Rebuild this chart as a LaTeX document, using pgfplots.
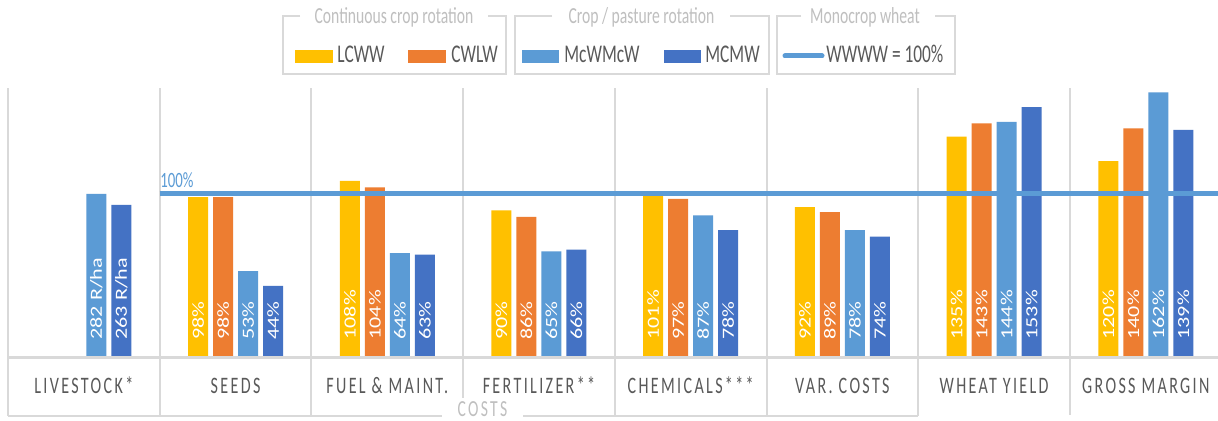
\documentclass[border=0pt]{standalone}
\usepackage{fontspec}
\setmainfont{Carlito}
\newfontfamily\cond[FakeStretch=0.68]{Carlito}
\newfontfamily\condsp[FakeStretch=0.68,LetterSpace=10]{Carlito}
\newfontfamily\labfont[FakeStretch=1.3]{Carlito}
\usepackage{pgfplots}
\pgfplotsset{compat=1.18}
\definecolor{cY}{HTML}{FFC000}
\definecolor{cO}{HTML}{ED7D31}
\definecolor{cL}{HTML}{5B9BD5}
\definecolor{cD}{HTML}{4472C4}
\definecolor{gridg}{HTML}{D9D9D9}
\definecolor{txtg}{HTML}{595959}
\definecolor{ttlg}{HTML}{BFBFBF}
\pgfplotsset{
  barlab/.style={draw=none, mark=none,
    point meta=explicit symbolic, nodes near coords=\pgfplotspointmeta,
    every node near coord/.append style={xshift=#1, rotate=90, anchor=west, inner sep=0pt,
      text=white, font=\labfont\fontsize{8.5}{9}\selectfont}},
}
\begin{document}
\begin{tikzpicture}
\fill[white] (0,0) rectangle (609pt,210.5pt);
\useasboundingbox (0,0) rectangle (609pt,210.5pt);
\begin{axis}[
  at={(4pt,31.5pt)}, anchor=south west,
  scale only axis, width=605pt, height=135pt,
  xmin=-0.5, xmax=7.476, ymin=0, ymax=164.6,
  axis line style={draw=none},
  ytick=\empty,
  xtick={-0.5,0.5,1.5,2.5,3.5,4.5,5.5,6.5}, xticklabels={},
  major tick length=0pt,
  xmajorgrids, grid style={draw=gridg, line width=1pt},
  extra x ticks={0,1,2,3,4,5,6,7},
  extra x tick labels={LIVESTOCK*, SEEDS, FUEL \& MAINT., FERTILIZER**, CHEMICALS***, VAR. COSTS, WHEAT YIELD, GROSS MARGIN},
  extra x tick style={grid=none, major tick length=0pt,
    tick label style={anchor=base, yshift=-18pt, text=txtg,
      font=\condsp\fontsize{11.8}{12}\selectfont}},
  clip=false,
]
% bars
\addplot[ybar, bar width=10pt, bar shift=-18.75pt, fill=cY, draw=none]
  coordinates {(1,98) (2,108) (3,90) (4,101) (5,92) (6,135) (7,120)};
\addplot[ybar, bar width=10pt, bar shift=-6.25pt, fill=cO, draw=none]
  coordinates {(1,98) (2,104) (3,86) (4,97) (5,89) (6,143) (7,140)};
\addplot[ybar, bar width=10pt, bar shift=6.25pt, fill=cL, draw=none]
  coordinates {(0,100) (1,53) (2,64) (3,65) (4,87) (5,78) (6,144) (7,162)};
\addplot[ybar, bar width=10pt, bar shift=18.75pt, fill=cD, draw=none]
  coordinates {(0,93.3) (1,44) (2,63) (3,66) (4,78) (5,74) (6,153) (7,139)};
% labels at bar bases
\addplot[barlab=-18.75pt]
  coordinates {(1,11) [98\%] (2,11) [108\%] (3,11) [90\%] (4,11) [101\%] (5,11) [92\%] (6,11) [135\%] (7,11) [120\%]};
\addplot[barlab=-6.25pt]
  coordinates {(1,11) [98\%] (2,11) [104\%] (3,11) [86\%] (4,11) [97\%] (5,11) [89\%] (6,11) [143\%] (7,11) [140\%]};
\addplot[barlab=6.25pt]
  coordinates {(0,11) [282 R/ha] (1,11) [53\%] (2,11) [64\%] (3,11) [65\%] (4,11) [87\%] (5,11) [78\%] (6,11) [144\%] (7,11) [162\%]};
\addplot[barlab=18.75pt]
  coordinates {(0,11) [263 R/ha] (1,11) [44\%] (2,11) [63\%] (3,11) [66\%] (4,11) [78\%] (5,11) [74\%] (6,11) [153\%] (7,11) [139\%]};
% 100% reference line
\addplot[cL, line width=2.5pt] coordinates {(0.5,100) (7.476,100)};
\end{axis}
% baseline
\draw[gridg, line width=1.5pt] (4pt,31.5pt) -- (609pt,31.5pt);
% category table lines below the axis
\foreach \xx in {4,79.85,155.7,307.4,383.25,459.1}
  \draw[gridg, line width=1pt] (\xx pt,31.5pt) -- (\xx pt,2.5pt);
\draw[gridg, line width=1pt] (231.5pt,31.5pt) -- (231.5pt,11.5pt);
\draw[gridg, line width=1pt] (535pt,31.5pt) -- (535pt,3pt);
\draw[gridg, line width=1.2pt] (4pt,2.5pt) -- (221pt,2.5pt);
\draw[gridg, line width=1.2pt] (261.5pt,2.5pt) -- (459.1pt,2.5pt);
\node[anchor=base, inner sep=0pt, text=ttlg, font=\condsp\fontsize{11.5}{12}\selectfont] at (241.25pt,2.2pt) {COSTS};
% 100% label
\node[anchor=base west, inner sep=0pt, text=cL, font=\cond\fontsize{10.9}{12}\selectfont] at (80pt,116.5pt) {100\%};
% legend boxes
\draw[gridg, line width=1pt] (150pt,202.5pt) -- (141.5pt,202.5pt) -- (141.5pt,173.5pt) -- (253pt,173.5pt) -- (253pt,202.5pt) -- (244pt,202.5pt);
\draw[gridg, line width=1pt] (276pt,202.5pt) -- (257.5pt,202.5pt) -- (257.5pt,173.5pt) -- (384.5pt,173.5pt) -- (384.5pt,202.5pt) -- (365pt,202.5pt);
\draw[gridg, line width=1pt] (400.5pt,202.5pt) -- (388.5pt,202.5pt) -- (388.5pt,173.5pt) -- (477.5pt,173.5pt) -- (477.5pt,202.5pt) -- (467.5pt,202.5pt);
\begin{scope}[every node/.style={anchor=base, inner sep=0pt, text=ttlg, font=\cond\fontsize{11.5}{12}\selectfont}]
\node at (197pt,198.8pt) {Continuous crop rotation};
\node at (320.75pt,198.8pt) {Crop / pasture rotation};
\node at (432.5pt,198.8pt) {Monocrop wheat};
\end{scope}
\fill[cY] (147.5pt,179pt) rectangle (166.5pt,185.5pt);
\fill[cO] (204pt,179pt) rectangle (223pt,185.5pt);
\fill[cL] (261pt,179pt) rectangle (279.5pt,185.5pt);
\fill[cD] (332pt,179pt) rectangle (350.5pt,185.5pt);
\draw[cL, line width=2.5pt, line cap=round] (392.5pt,182.5pt) -- (411pt,182.5pt);
\begin{scope}[every node/.style={anchor=base west, inner sep=0pt, text=txtg, font=\cond\fontsize{12.75}{14}\selectfont}]
\node at (168.5pt,179pt) {LCWW};
\node at (225.5pt,179pt) {CWLW};
\node at (282pt,179pt) {McWMcW};
\node at (352.5pt,179pt) {MCMW};
\node at (413pt,179pt) {WWWW = 100\%};
\end{scope}
\end{tikzpicture}
\end{document}
